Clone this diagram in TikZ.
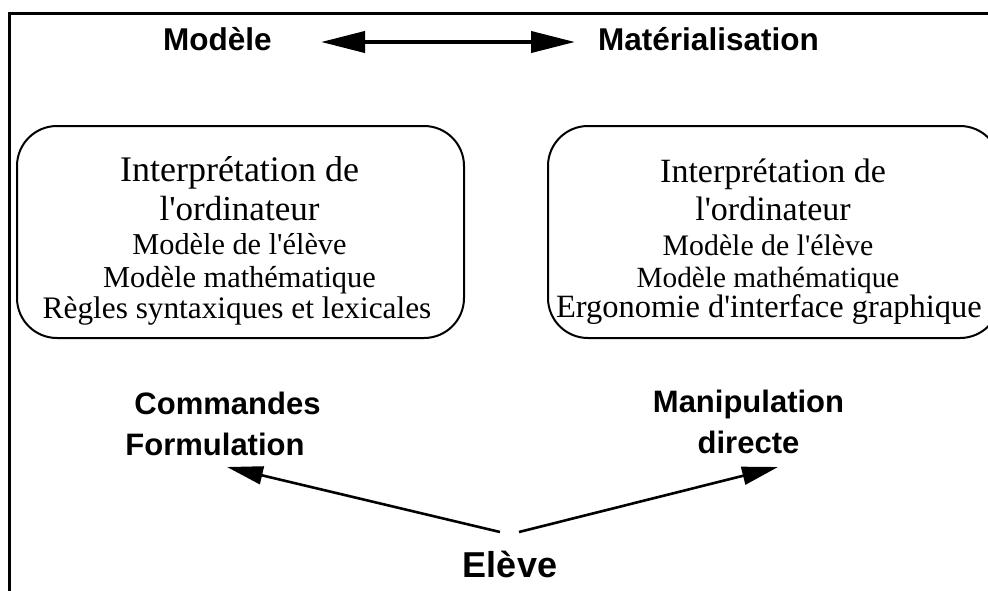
\documentclass[tikz,border=0pt]{standalone}
\usepackage{fontspec}
\setmainfont{Liberation Serif}
\setsansfont{Liberation Sans}
\newfontfamily\tms{Liberation Serif}
\usetikzlibrary{arrows.meta}
\begin{document}
\begin{tikzpicture}[x=1pt,y=-1pt,
  lbl/.style={font=\sffamily\bfseries\fontsize{31.5}{36}\selectfont, anchor=base, inner sep=0pt},
  lbllow/.style={lbl, font=\sffamily\bfseries\fontsize{31}{36}\selectfont},
  txt/.style={anchor=base, inner sep=0pt},
  panel/.style={draw, line width=2pt, rounded corners=40pt, minimum width=447pt, minimum height=212pt, inner sep=0pt, anchor=north west},
  conn/.style={line width=2.6pt, -{Triangle[length=36pt,width=18pt]}},
  dbl/.style={line width=4pt, {Triangle[length=44pt,width=21pt]}-{Triangle[length=44pt,width=21pt]}}
]
\useasboundingbox (0,0) rectangle (988,590);
% frame
\draw[line width=3.5pt] (9.5,592) -- (9.5,13.3) -- (990,13.3);
% top labels
\node[lbl] (modele) at (217.5,50) {Modèle};
\node[lbl] (mat) at (708.5,50) {Matérialisation};
\coordinate (dl) at (321,42);
\coordinate (dr) at (575,42);
\draw[dbl] (dl) -- (dr);
% boxes
\node[panel] (boxl) at (16,125) {};
\node[panel, minimum width=452pt] (boxr) at (547,125) {};
% left box text
\node[txt, font=\tms\fontsize{36}{40}\selectfont] (l1) at (239.5,181) {Interprétation de};
\node[txt, font=\tms\fontsize{35}{40}\selectfont] (l2) at (239.5,220) {l'ordinateur};
\node[txt, font=\tms\fontsize{30.3}{34}\selectfont] (l3) at (239.5,254) {Modèle de l'élève};
\node[txt, font=\tms\fontsize{30.4}{34}\selectfont] (l4) at (239.5,287) {Modèle mathématique};
\node[txt, font=\tms\fontsize{31.3}{34}\selectfont] (l5) at (237,318) {Règles syntaxiques et lexicales};
% right box text
\node[txt, font=\tms\fontsize{34}{40}\selectfont] (r1) at (773,182) {Interprétation de};
\node[txt, font=\tms\fontsize{34}{40}\selectfont] (r2) at (773,220) {l'ordinateur};
\node[txt, font=\tms\fontsize{29.8}{34}\selectfont] (r3) at (768,255) {Modèle de l'élève};
\node[txt, font=\tms\fontsize{29.3}{34}\selectfont] (r4) at (768,287) {Modèle mathématique};
\node[txt, font=\tms\fontsize{32.5}{34}\selectfont] (r5) at (769,317) {Ergonomie d'interface graphique};
% lower labels
\node[lbllow] (cmd) at (227.5,414) {Commandes};
\node[lbllow] (form) at (215,455) {Formulation};
\node[lbllow] (manip) at (748.5,412) {Manipulation};
\node[lbllow] (dir) at (748.5,453) {directe};
\node[lbl, font=\sffamily\bfseries\fontsize{36}{40}\selectfont] (eleve) at (510,577) {Elève};
\coordinate (el) at (500,532);
\coordinate (er) at (519,532);
\coordinate (tl) at (227,467);
\coordinate (tr) at (778,467);
\draw[conn] (el) -- (tl);
\draw[conn] (er) -- (tr);
\end{tikzpicture}
\end{document}
